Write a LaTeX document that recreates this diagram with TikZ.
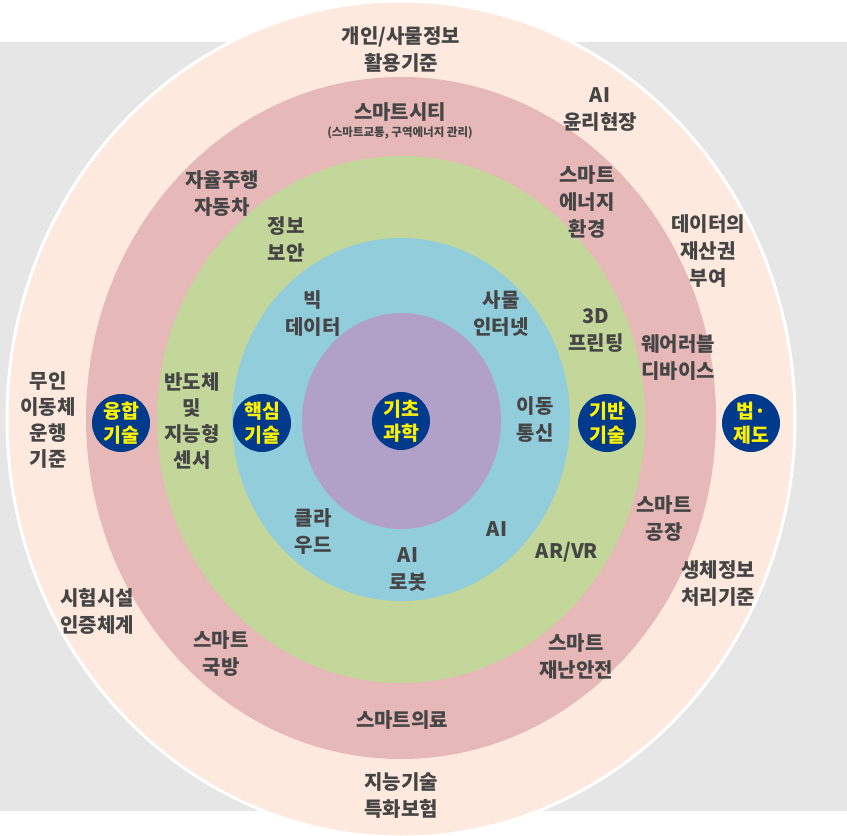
\documentclass[tikz,border=0pt]{standalone}
\usepackage{fontspec}
\setmainfont{Noto Sans CJK KR}
\definecolor{bggray}{HTML}{E6E6E6}
\definecolor{ringpeach}{HTML}{FDE9DD}
\definecolor{ringpink}{HTML}{E6B8B7}
\definecolor{ringgreen}{HTML}{C4D79B}
\definecolor{ringblue}{HTML}{92CDDC}
\definecolor{ringpurple}{HTML}{B1A0C7}
\definecolor{navy}{HTML}{003A8C}
\definecolor{yel}{HTML}{FFF200}
\definecolor{txt}{HTML}{454545}
\begin{document}
\begin{tikzpicture}[x=1pt,y=-1pt,
  lbl/.style={text=txt, font=\bfseries\fontsize{20}{27}\selectfont, align=center, inner sep=0pt},
  small/.style={text=txt, font=\bfseries\fontsize{11.5}{14}\selectfont, align=center, inner sep=0pt},
  badge/.style={circle, fill=navy, text=yel, minimum size=58pt, inner sep=0pt,
    font=\bfseries\fontsize{19.5}{24}\selectfont, align=center}]
\useasboundingbox (0,0) rectangle (847,836);
\fill[bggray] (0,42) rectangle (847,811);
\filldraw[fill=ringpeach, draw=white, line width=3pt] (401,419) ellipse [x radius=394pt, y radius=418pt];
\fill[ringpink] (401,418) ellipse [x radius=315pt, y radius=341pt];
\fill[ringgreen] (401,419.5) ellipse [x radius=244pt, y radius=263.5pt];
\fill[ringblue] (401,419.5) ellipse [x radius=169pt, y radius=181.5pt];
\fill[ringpurple] (401.5,421) ellipse [x radius=99.5pt, y radius=108pt];

% badges
\node[badge] (b1) at (121,423) {융합\\기술};
\node[badge] (b2) at (262,423) {핵심\\기술};
\node[badge] (b3) at (401,421) {기초\\과학};
\node[badge] (b4) at (607,423) {기반\\기술};
\node[badge] (b5) at (751,423) {법·\\제도};

% labels
\node[lbl] (l1) at (401,50) {개인/사물정보\\활용기준};
\node[lbl] (l2) at (600,110) {AI\\윤리현장};
\node[lbl] (l3) at (400,112) {스마트시티};
\node[small] (l3s) at (400,133) {(스마트교통, 구역에너지 관리)};
\node[lbl] (l4) at (222,194) {자율주행\\자동차};
\node[lbl] (l5) at (587,202) {스마트\\에너지\\환경};
\node[lbl] (l6) at (286,239) {정보\\보안};
\node[lbl] (l7) at (708,251) {데이터의\\재산권\\부여};
\node[lbl] (l8) at (313,314) {빅\\데이터};
\node[lbl] (l9) at (501,314) {사물\\인터넷};
\node[lbl] (l10) at (596,331) {3D\\프린팅};
\node[lbl] (l11) at (678,358) {웨어러블\\디바이스};
\node[lbl, font=\bfseries\fontsize{20}{26}\selectfont] (l12) at (48,420) {무인\\이동체\\운행\\기준};
\node[lbl, font=\bfseries\fontsize{20}{26}\selectfont] (l13) at (192,421) {반도체\\및\\지능형\\센서};
\node[lbl] (l14) at (535,420) {이동\\통신};
\node[lbl] (l15) at (664,519) {스마트\\공장};
\node[lbl] (l16) at (313,532) {클라\\우드};
\node[lbl] (l17) at (497,529) {AI};
\node[lbl] (l18) at (408,569) {AI\\로봇};
\node[lbl] (l19) at (567,552) {AR/VR};
\node[lbl] (l20) at (718,584) {생체정보\\처리기준};
\node[lbl] (l21) at (97,611) {시험시설\\인증체계};
\node[lbl] (l22) at (221,654) {스마트\\국방};
\node[lbl] (l23) at (576,657) {스마트\\재난안전};
\node[lbl] (l24) at (402,720) {스마트의료};
\node[lbl] (l25) at (401,796) {지능기술\\특화보험};
\end{tikzpicture}
\end{document}
